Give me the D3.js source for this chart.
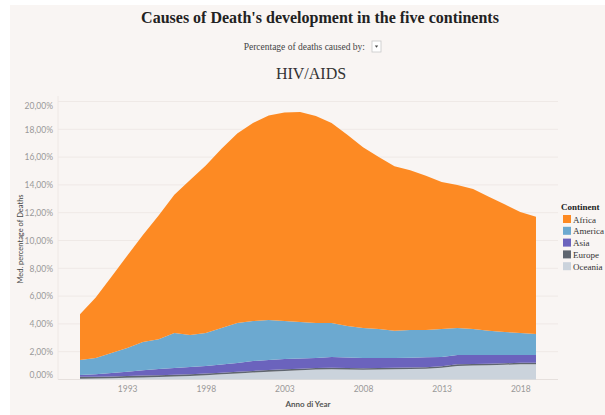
<!DOCTYPE html>
<html>
<head>
<meta charset="utf-8">
<script src="https://cdn.jsdelivr.net/npm/d3@7/dist/d3.min.js"></script>
<style>
  html, body { margin: 0; padding: 0; background: #ffffff; }
  svg { display: block; }
</style>
</head>
<body>
<svg id="chart" width="605" height="415"></svg>
<script>
// Median share of deaths caused by HIV/AIDS, by continent (percent)
const years = d3.range(1990, 2020);
const continents = ["Africa", "America", "Asia", "Europe", "Oceania"];
const africa  = [3.30, 4.35, 5.50, 6.63, 7.70, 8.90, 9.95, 11.15, 12.05, 12.90, 13.64, 14.25, 14.72, 15.00, 15.11,
                 14.89, 14.39, 13.75, 13.00, 12.37, 11.85, 11.49, 11.09, 10.57, 10.30, 10.07, 9.65, 9.18, 8.70, 8.43];
const america = [1.08, 1.17, 1.44, 1.71, 2.04, 2.15, 2.52, 2.30, 2.38, 2.62, 2.87, 2.87, 2.88, 2.73, 2.63,
                 2.51, 2.44, 2.27, 2.15, 2.08, 1.95, 1.99, 1.96, 2.01, 1.94, 1.87, 1.74, 1.66, 1.59, 1.51];
const asia    = [0.13, 0.18, 0.24, 0.31, 0.38, 0.44, 0.49, 0.52, 0.53, 0.59, 0.64, 0.71, 0.72, 0.74, 0.74,
                 0.72, 0.77, 0.75, 0.74, 0.72, 0.70, 0.70, 0.71, 0.66, 0.67, 0.65, 0.62, 0.59, 0.56, 0.55];
const europe  = [0.13, 0.13, 0.13, 0.13, 0.13, 0.13, 0.13, 0.13, 0.13, 0.12, 0.12, 0.12, 0.12, 0.12, 0.11,
                 0.11, 0.11, 0.11, 0.11, 0.11, 0.11, 0.11, 0.11, 0.11, 0.11, 0.11, 0.11, 0.11, 0.11, 0.11];
const oceania = [0.06, 0.07, 0.09, 0.12, 0.15, 0.18, 0.21, 0.25, 0.31, 0.37, 0.43, 0.50, 0.56, 0.61, 0.66,
                 0.72, 0.74, 0.72, 0.70, 0.72, 0.74, 0.76, 0.78, 0.85, 0.98, 1.00, 1.03, 1.06, 1.09, 1.10];
const colors  = ["#fd8a23", "#6ca9d0", "#6b63bd", "#5f6670", "#cbd3dc"];
const xTicks  = [1993, 1998, 2003, 2008, 2013, 2018];
const yTicks  = [0, 2, 4, 6, 8, 10, 12, 14, 16, 18, 20];

const series = { Africa: africa, America: america, Asia: asia, Europe: europe, Oceania: oceania };
const rows = years.map((yr, i) => {
  const r = { year: yr };
  continents.forEach(c => { r[c] = series[c][i]; });
  return r;
});

const svg = d3.select("#chart");
const W = 605, H = 415;
const bg = "#f9f5f3";

// dashboard panel
svg.append("rect").attr("x", 10).attr("y", 5).attr("width", W - 10).attr("height", H - 5).attr("fill", bg);

// headings
svg.append("text").attr("x", 320).attr("y", 23).attr("text-anchor", "middle")
  .attr("font-family", "'Liberation Serif', 'Times New Roman', serif").attr("font-weight", "bold")
  .attr("font-size", 16).attr("fill", "#222")
  .text("Causes of Death's development in the five continents");

svg.append("text").attr("x", 365).attr("y", 50).attr("text-anchor", "end")
  .attr("font-family", "'Liberation Serif', 'Times New Roman', serif")
  .attr("font-size", 9.5).attr("fill", "#444")
  .text("Percentage of deaths caused by:");

const dd = svg.append("g").attr("transform", "translate(372,41)");
dd.append("rect").attr("width", 9).attr("height", 11).attr("fill", "#fff")
  .attr("stroke", "#c8c8c8").attr("stroke-width", 0.8);
dd.append("path").attr("d", "M2.8,4.5 L6.2,4.5 L4.5,6.8 Z").attr("fill", "#444");

svg.append("text").attr("x", 311).attr("y", 79).attr("text-anchor", "middle")
  .attr("font-family", "'Liberation Serif', 'Times New Roman', serif")
  .attr("font-size", 16).attr("fill", "#333")
  .text("HIV/AIDS");

// scales
const x = d3.scaleLinear().domain([1988.6, 2020.4]).range([58, 558]);
const y = d3.scaleLinear().domain([0, 20]).range([379.5, 101.5]);

// gridlines
svg.append("g").selectAll("line").data(yTicks).join("line")
  .attr("x1", 58).attr("x2", 558)
  .attr("y1", d => y(d)).attr("y2", d => y(d))
  .attr("stroke", d => d === 0 ? "#e6e0dd" : "#efe9e6").attr("stroke-width", 1);

svg.append("line").attr("x1", 58).attr("x2", 58).attr("y1", 96).attr("y2", y(0))
  .attr("stroke", "#eee8e5");

// stacked areas, bottom layer first
const order = ["Oceania", "Europe", "Asia", "America", "Africa"];
const stack = d3.stack().keys(order);
const layers = stack(rows);
const area = d3.area()
  .x(d => x(d.data.year))
  .y0(d => y(d[0]))
  .y1(d => y(d[1]));

svg.append("g").selectAll("path").data(layers).join("path")
  .attr("d", area)
  .attr("fill", d => colors[continents.indexOf(d.key)]);

// y axis labels (end labels kept inside the axis span)
const fmtLocale = d3.formatLocale({ decimal: ",", thousands: ".", grouping: [3], currency: ["", "€"] });
const pct = v => fmtLocale.format(".2f")(v) + "%";
const yAxis = d3.axisLeft(y).tickValues(yTicks).tickSize(0).tickPadding(0).tickFormat(pct);
const gy = svg.append("g").attr("transform", "translate(53,0)").call(yAxis);
gy.select(".domain").remove();
gy.selectAll("text")
  .attr("font-family", "Lato, 'Open Sans', sans-serif").attr("font-size", 8.5).attr("fill", "#999")
  .attr("dy", d => d === 0 ? "-0.2em" : d === 20 ? "0.8em" : "0.32em");

// x axis labels
const xAxis = d3.axisBottom(x).tickValues(xTicks).tickSize(0).tickPadding(0).tickFormat(d3.format("d"));
const gx = svg.append("g").attr("transform", "translate(0,386)").call(xAxis);
gx.select(".domain").remove();
gx.selectAll("text")
  .attr("font-family", "Lato, 'Open Sans', sans-serif").attr("font-size", 8.5).attr("fill", "#999")
  .attr("dy", "0.71em");

// axis titles
svg.append("text").attr("x", 308).attr("y", 407).attr("text-anchor", "middle")
  .attr("font-family", "Lato, 'Open Sans', sans-serif").attr("font-weight", "bold")
  .attr("font-size", 8).attr("fill", "#555").text("Anno di Year");

svg.append("text").attr("transform", "translate(23,239) rotate(-90)").attr("text-anchor", "middle")
  .attr("font-family", "Lato, 'Open Sans', sans-serif")
  .attr("font-size", 7.5).attr("fill", "#444").text("Med. percentage of Deaths");

// legend
const lg = svg.append("g").attr("transform", "translate(561,0)");
lg.append("text").attr("x", 0).attr("y", 210)
  .attr("font-family", "'Liberation Serif', 'Times New Roman', serif").attr("font-weight", "bold")
  .attr("font-size", 9).attr("fill", "#222").text("Continent");
const items = lg.selectAll("g.item").data(continents).join("g").attr("class", "item")
  .attr("transform", (d, i) => `translate(0,${215 + i * 11.8})`);
items.append("rect").attr("x", 2).attr("y", 0).attr("width", 8).attr("height", 8)
  .attr("fill", (d, i) => colors[i]);
items.append("text").attr("x", 12).attr("y", 7.5)
  .attr("font-family", "'Liberation Serif', 'Times New Roman', serif")
  .attr("font-size", 9).attr("fill", "#333").text(d => d);
</script>
</body>
</html>
